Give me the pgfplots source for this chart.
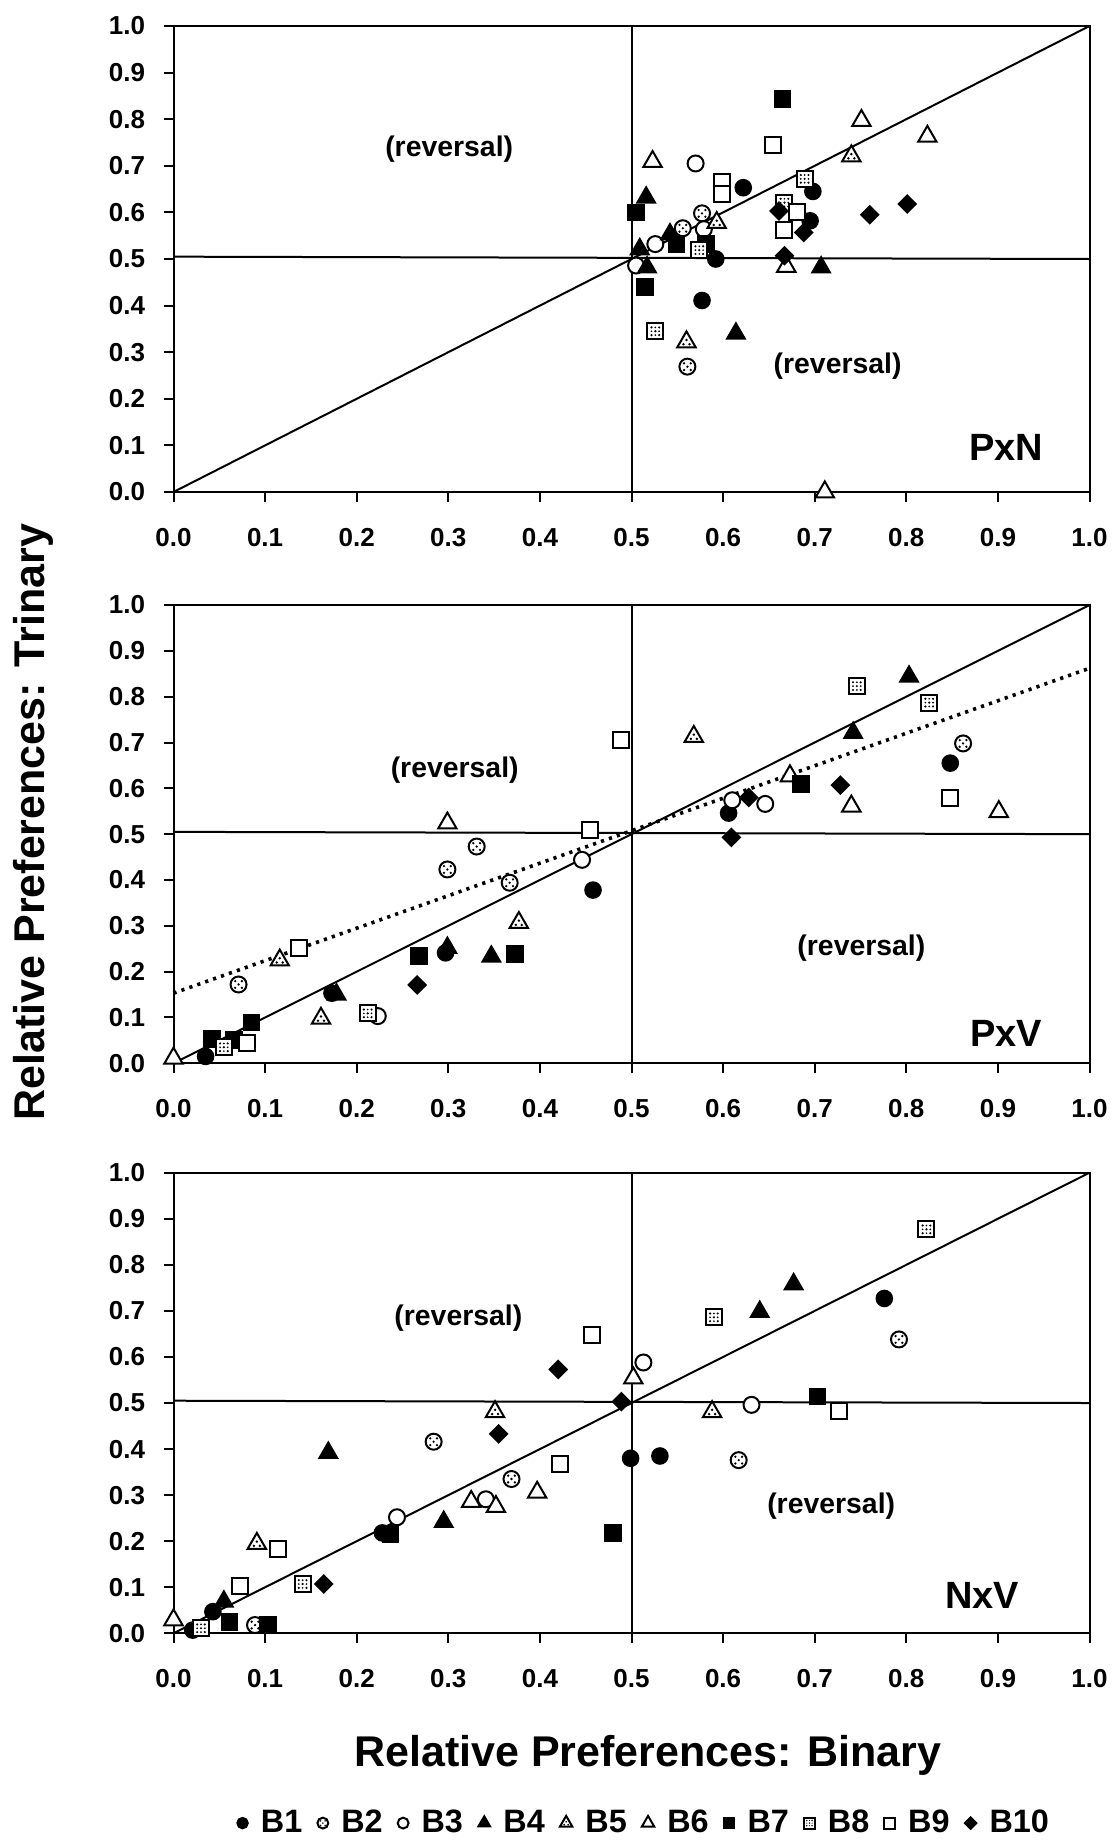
\documentclass[border=0pt]{standalone}
\usepackage{fontspec}
\setmainfont{Liberation Sans}
\usepackage{pgfplots}
\pgfplotsset{compat=1.18}

\newcommand{\tickfont}{\fontsize{13}{15}\selectfont\bfseries}
\newcommand{\revfont}{\fontsize{14.2}{16}\selectfont\bfseries}
\newcommand{\tagfont}{\fontsize{19}{21}\selectfont\bfseries}
\newcommand{\labfont}{\fontsize{21.5}{24}\selectfont\bfseries}
\newcommand{\legfont}{\fontsize{16.2}{18}\selectfont\bfseries}

% dotted-fill markers (white shape, black outline, small dots inside)
\pgfdeclareplotmark{dotcircle}{%
  \pgfpathcircle{\pgfpointorigin}{\pgfplotmarksize}%
  \pgfsetfillcolor{white}\pgfusepathqfillstroke
  \pgfsetfillcolor{black}%
  \pgfpathcircle{\pgfqpoint{0pt}{0pt}}{0.16\pgfplotmarksize}%
  \pgfpathcircle{\pgfqpoint{0.42\pgfplotmarksize}{0.42\pgfplotmarksize}}{0.16\pgfplotmarksize}%
  \pgfpathcircle{\pgfqpoint{-0.42\pgfplotmarksize}{0.42\pgfplotmarksize}}{0.16\pgfplotmarksize}%
  \pgfpathcircle{\pgfqpoint{0.42\pgfplotmarksize}{-0.42\pgfplotmarksize}}{0.16\pgfplotmarksize}%
  \pgfpathcircle{\pgfqpoint{-0.42\pgfplotmarksize}{-0.42\pgfplotmarksize}}{0.16\pgfplotmarksize}%
  \pgfusepathqfill}
\pgfdeclareplotmark{dotsquare}{%
  \pgfpathrectangle{\pgfqpoint{-\pgfplotmarksize}{-\pgfplotmarksize}}{\pgfqpoint{2\pgfplotmarksize}{2\pgfplotmarksize}}%
  \pgfsetfillcolor{white}\pgfusepathqfillstroke
  \pgfsetfillcolor{black}%
  \pgfpathcircle{\pgfqpoint{0pt}{0pt}}{0.15\pgfplotmarksize}%
  \pgfpathcircle{\pgfqpoint{0.48\pgfplotmarksize}{0.48\pgfplotmarksize}}{0.15\pgfplotmarksize}%
  \pgfpathcircle{\pgfqpoint{-0.48\pgfplotmarksize}{0.48\pgfplotmarksize}}{0.15\pgfplotmarksize}%
  \pgfpathcircle{\pgfqpoint{0.48\pgfplotmarksize}{-0.48\pgfplotmarksize}}{0.15\pgfplotmarksize}%
  \pgfpathcircle{\pgfqpoint{-0.48\pgfplotmarksize}{-0.48\pgfplotmarksize}}{0.15\pgfplotmarksize}%
  \pgfpathcircle{\pgfqpoint{0.48\pgfplotmarksize}{0pt}}{0.12\pgfplotmarksize}%
  \pgfpathcircle{\pgfqpoint{-0.48\pgfplotmarksize}{0pt}}{0.12\pgfplotmarksize}%
  \pgfpathcircle{\pgfqpoint{0pt}{0.48\pgfplotmarksize}}{0.12\pgfplotmarksize}%
  \pgfpathcircle{\pgfqpoint{0pt}{-0.48\pgfplotmarksize}}{0.12\pgfplotmarksize}%
  \pgfusepathqfill}
\pgfdeclareplotmark{dottriangle}{%
  \pgfpathmoveto{\pgfqpoint{0pt}{\pgfplotmarksize}}%
  \pgfpathlineto{\pgfqpointpolar{-150}{\pgfplotmarksize}}%
  \pgfpathlineto{\pgfqpointpolar{-30}{\pgfplotmarksize}}%
  \pgfpathclose
  \pgfsetfillcolor{white}\pgfusepathqfillstroke
  \pgfsetfillcolor{black}%
  \pgfpathcircle{\pgfqpoint{0pt}{0.18\pgfplotmarksize}}{0.13\pgfplotmarksize}%
  \pgfpathcircle{\pgfqpoint{-0.28\pgfplotmarksize}{-0.22\pgfplotmarksize}}{0.13\pgfplotmarksize}%
  \pgfpathcircle{\pgfqpoint{0.28\pgfplotmarksize}{-0.22\pgfplotmarksize}}{0.13\pgfplotmarksize}%
  \pgfusepathqfill}

\pgfplotsset{
  panel/.style={
    scale only axis, width=458pt,
    xmin=0, xmax=1, ymin=0, ymax=1,
    clip=false,
    xtick={0,0.1,0.2,0.3,0.4,0.5,0.6,0.7,0.8,0.9,1},
    ytick={0,0.1,0.2,0.3,0.4,0.5,0.6,0.7,0.8,0.9,1},
    xticklabels={0.0,0.1,0.2,0.3,0.4,0.5,0.6,0.7,0.8,0.9,1.0},
    yticklabels={0.0,0.1,0.2,0.3,0.4,0.5,0.6,0.7,0.8,0.9,1.0},
    tick align=outside, tick pos=left,
    major tick length=5pt,
    axis line style={black, line width=1pt},
    every tick/.style={black, line width=1pt},
    ticklabel style={font=\tickfont},
    xticklabel style={anchor=north, inner sep=0pt},
    yticklabel style={anchor=east, inner sep=0pt},
    xticklabel shift=13pt,
    yticklabel shift=9pt,
  },
  guide/.style={black, line width=1pt, forget plot},
  sB1/.style={only marks, mark=*, mark size=4pt, mark options={draw=black, fill=black, line width=0.8pt}},
  sB2/.style={only marks, mark=dotcircle, mark size=4pt, mark options={draw=black, line width=1pt}},
  sB3/.style={only marks, mark=*, mark size=4pt, mark options={draw=black, fill=white, line width=1pt}},
  sB4/.style={only marks, mark=triangle*, mark size=5.3pt, mark options={draw=black, fill=black, line width=0.8pt}},
  sB5/.style={only marks, mark=dottriangle, mark size=5.3pt, mark options={draw=black, line width=1pt}},
  sB6/.style={only marks, mark=triangle*, mark size=5.3pt, mark options={draw=black, fill=white, line width=1pt}},
  sB7/.style={only marks, mark=square*, mark size=4pt, mark options={draw=black, fill=black, line width=0.8pt}},
  sB8/.style={only marks, mark=dotsquare, mark size=4pt, mark options={draw=black, line width=1pt}},
  sB9/.style={only marks, mark=square*, mark size=4pt, mark options={draw=black, fill=white, line width=1pt}},
  sB10/.style={only marks, mark=square*, mark size=3.1pt, mark options={draw=black, fill=black, rotate=45, line width=0.8pt}},
}

\begin{document}
\begin{tikzpicture}
\useasboundingbox (0pt,0pt) rectangle (557.5pt,-920.5pt);

% ---------------- PxN ----------------
\begin{axis}[panel, height=233pt, at={(86.75pt,-246pt)}, anchor=south west]
\addplot[guide] coordinates {(0,0) (1,1)};
\addplot[guide] coordinates {(0,0.505) (1,0.5)};
\addplot[guide] coordinates {(0.5,0) (0.5,1)};
\addplot[sB1] coordinates {(0.622,0.653) (0.698,0.645) (0.695,0.582) (0.592,0.500) (0.577,0.411)};
\addplot[sB2] coordinates {(0.577,0.598) (0.556,0.566) (0.561,0.269)};
\addplot[sB3] coordinates {(0.570,0.705) (0.526,0.532) (0.505,0.486) (0.579,0.564)};
\addplot[sB4] coordinates {(0.516,0.632) (0.542,0.553) (0.509,0.521) (0.517,0.482) (0.614,0.340) (0.707,0.482)};
\addplot[sB5] coordinates {(0.740,0.721) (0.593,0.578) (0.560,0.322)};
\addplot[sB6] coordinates {(0.751,0.797) (0.823,0.763) (0.523,0.709) (0.669,0.484) (0.711,0.0)};
\addplot[sB7] coordinates {(0.665,0.843) (0.505,0.600) (0.549,0.532) (0.581,0.532) (0.515,0.440)};
\addplot[sB8] coordinates {(0.689,0.672) (0.574,0.519) (0.526,0.345) (0.667,0.621)};
\addplot[sB9] coordinates {(0.655,0.745) (0.599,0.665) (0.599,0.639) (0.681,0.600) (0.667,0.563)};
\addplot[sB10] coordinates {(0.801,0.618) (0.760,0.595) (0.667,0.507) (0.661,0.603) (0.688,0.557)};
\node[font=\revfont] at (axis cs:0.301,0.735) {(reversal)};
\node[font=\revfont] at (axis cs:0.725,0.269) {(reversal)};
\node[font=\tagfont] at (axis cs:0.909,0.095) {PxN};
\end{axis}

% ---------------- PxV ----------------
\begin{axis}[panel, height=229.15pt, at={(86.75pt,-531.65pt)}, anchor=south west]
\addplot[guide] coordinates {(0,0) (1,1)};
\addplot[guide] coordinates {(0,0.505) (1,0.5)};
\addplot[guide] coordinates {(0.5,0) (0.5,1)};
\addplot[black, line width=1.8pt, dash pattern=on 1.6pt off 2.6pt, forget plot] coordinates {(0,0.153) (1,0.862)};
\addplot[sB1] coordinates {(0.458,0.378) (0.297,0.241) (0.173,0.153) (0.035,0.015) (0.848,0.655) (0.606,0.546)};
\addplot[sB2] coordinates {(0.331,0.473) (0.299,0.423) (0.367,0.394) (0.071,0.172) (0.862,0.698)};
\addplot[sB3] coordinates {(0.446,0.444) (0.223,0.103) (0.610,0.574) (0.646,0.566)};
\addplot[sB4] coordinates {(0.299,0.252) (0.347,0.233) (0.178,0.150) (0.803,0.844) (0.742,0.721)};
\addplot[sB5] coordinates {(0.377,0.307) (0.116,0.225) (0.161,0.098) (0.568,0.713)};
\addplot[sB6] coordinates {(0.299,0.524) (0.0,0.011) (0.673,0.627) (0.740,0.561) (0.901,0.549)};
\addplot[sB7] coordinates {(0.268,0.234) (0.373,0.238) (0.085,0.089) (0.066,0.051) (0.042,0.053) (0.685,0.609)};
\addplot[sB8] coordinates {(0.212,0.109) (0.055,0.035) (0.746,0.823) (0.825,0.787)};
\addplot[sB9] coordinates {(0.488,0.705) (0.455,0.508) (0.137,0.251) (0.080,0.044) (0.848,0.578)};
\addplot[sB10] coordinates {(0.266,0.171) (0.728,0.607) (0.628,0.580) (0.609,0.493)};
\node[font=\revfont] at (axis cs:0.307,0.640) {(reversal)};
\node[font=\revfont] at (axis cs:0.751,0.251) {(reversal)};
\node[font=\tagfont] at (axis cs:0.909,0.065) {PxV};
\end{axis}

% ---------------- NxV ----------------
\begin{axis}[panel, height=230.3pt, at={(86.75pt,-816.65pt)}, anchor=south west,
  legend columns=10,
  legend style={draw=none, fill=none, font=\legfont, at={(0.5126,-0.412)}, anchor=center,
    inner sep=0pt, nodes={inner sep=0pt},
    /tikz/every even column/.append style={column sep=7.5pt},
    /tikz/every odd column/.append style={column sep=6.5pt}},
  legend image code/.code={\draw[mark repeat=2,mark phase=2,#1] plot coordinates {(0pt,0pt) (3pt,0pt) (6pt,0pt)};},
  legend image post style={/tikz/every mark/.append style={scale=0.68}},
]
\addplot[guide] coordinates {(0,0) (1,1)};
\addplot[guide] coordinates {(0,0.505) (1,0.5)};
\addplot[guide] coordinates {(0.5,0) (0.5,1)};
\addplot[sB1] coordinates {(0.499,0.380) (0.228,0.218) (0.043,0.047) (0.021,0.007) (0.776,0.727) (0.531,0.385)};
\addplot[sB2] coordinates {(0.284,0.416) (0.369,0.335) (0.089,0.018) (0.792,0.638) (0.617,0.376)};
\addplot[sB3] coordinates {(0.513,0.588) (0.341,0.291) (0.244,0.252) (0.631,0.496)};
\addplot[sB4] coordinates {(0.169,0.392) (0.295,0.242) (0.055,0.069) (0.677,0.758) (0.640,0.698)};
\addplot[sB5] coordinates {(0.351,0.481) (0.091,0.195) (0.588,0.481)};
\addplot[sB6] coordinates {(0.502,0.554) (0.397,0.306) (0.325,0.286) (0.352,0.275) (0.0,0.029)};
\addplot[sB7] coordinates {(0.237,0.216) (0.480,0.218) (0.061,0.025) (0.103,0.018) (0.703,0.514)};
\addplot[sB8] coordinates {(0.141,0.107) (0.030,0.011) (0.822,0.877) (0.590,0.686)};
\addplot[sB9] coordinates {(0.457,0.648) (0.422,0.368) (0.114,0.182) (0.073,0.103) (0.726,0.483)};
\addplot[sB10] coordinates {(0.420,0.573) (0.489,0.503) (0.355,0.433) (0.164,0.107)};
\legend{B1,B2,B3,B4,B5,B6,B7,B8,B9,B10}
\node[font=\revfont] at (axis cs:0.311,0.684) {(reversal)};
\node[font=\revfont] at (axis cs:0.718,0.275) {(reversal)};
\node[font=\tagfont] at (axis cs:0.883,0.083) {NxV};
\end{axis}

\node[font=\labfont, rotate=90] at (16.5pt,-411pt) {Relative Preferences: Trinary};
\node[font=\labfont] at (324pt,-877.5pt) {Relative Preferences: Binary};
\end{tikzpicture}
\end{document}
